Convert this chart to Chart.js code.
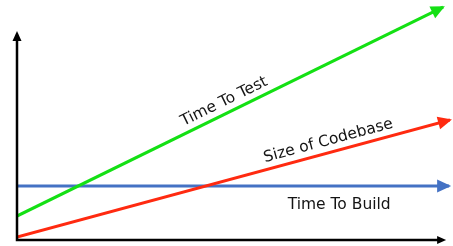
<!DOCTYPE html>
<html>
<head>
<meta charset="utf-8">
<script src="https://cdn.jsdelivr.net/npm/chart.js@4"></script>
<style>
  body { margin: 0; background: #fff; }
  #wrap { width: 453px; height: 246px; position: relative; }
</style>
</head>
<body>
<div id="wrap"><canvas id="chartCanvas"></canvas></div>
<script>
// values are on a 0..100 scale for both axes (no numbers are shown on the picture)
const seriesNames = ['Time To Test', 'Size of Codebase', 'Time To Build'];
const testX = [0, 98.4];
const testY = [10.2, 99.1];
const codebaseX = [0, 100];
const codebaseY = [1.3, 51.1];
const buildX = [0, 99.8];
const buildY = [23, 23];
// where each label sits along its line (x value)
const labelAt = [49, 72.6, 74.4];
// axis arrow ends
const yAxisTop = 87.2;
const xAxisEnd = 99.1;

const colors = ['#14e014', '#ff2a10', '#4472c4'];

const toPoints = (xs, ys) => xs.map((x, i) => ({ x: x, y: ys[i] }));

function arrowHead(ctx, x0, y0, x1, y1, len, half, color) {
    const a = Math.atan2(y1 - y0, x1 - x0);
    ctx.save();
    ctx.translate(x1, y1);
    ctx.rotate(a);
    ctx.fillStyle = color;
    ctx.beginPath();
    ctx.moveTo(2, 0);
    ctx.lineTo(2 - len, -half);
    ctx.lineTo(2 - len, half);
    ctx.closePath();
    ctx.fill();
    ctx.restore();
}

const decorations = {
    id: 'decorations',
    afterDatasetsDraw(chart) {
        const ctx = chart.ctx;
        const xs = chart.scales.x, ys = chart.scales.y;
        const area = chart.chartArea;

        // axes
        ctx.save();
        ctx.strokeStyle = '#000';
        ctx.lineWidth = 2.5;
        ctx.beginPath();
        ctx.moveTo(area.left, ys.getPixelForValue(yAxisTop) + 6);
        ctx.lineTo(area.left, area.bottom);
        ctx.lineTo(xs.getPixelForValue(xAxisEnd) - 6, area.bottom);
        ctx.stroke();
        ctx.restore();
        arrowHead(ctx, area.left, area.bottom, area.left, ys.getPixelForValue(yAxisTop) - 2, 10, 4.5, '#000');
        arrowHead(ctx, area.left, area.bottom, xs.getPixelForValue(xAxisEnd) - 2, area.bottom, 9, 4, '#000');

        // arrow heads at line ends + labels
        chart.data.datasets.forEach((ds, i) => {
            const pts = chart.getDatasetMeta(i).data;
            const p0 = pts[pts.length - 2], p1 = pts[pts.length - 1];
            arrowHead(ctx, p0.x, p0.y, p1.x, p1.y, 14, 6.5, ds.borderColor);

            const a = Math.atan2(p1.y - p0.y, p1.x - p0.x);
            const lx = xs.getPixelForValue(labelAt[i]);
            const first = pts[0];
            const ly = first.y + (p1.y - first.y) * ((lx - first.x) / (p1.x - first.x));
            ctx.save();
            ctx.translate(lx, ly);
            ctx.rotate(a);
            ctx.fillStyle = '#141414';
            ctx.font = '15.5px "DejaVu Sans", Verdana, sans-serif';
            ctx.textAlign = 'center';
            ctx.textBaseline = 'middle';
            ctx.fillText(ds.label, 0, a === 0 ? 19 : -11.5);
            ctx.restore();
        });
    }
};

const ctx = document.getElementById('chartCanvas').getContext('2d');
new Chart(ctx, {
    type: 'line',
    data: {
        datasets: [
            { label: seriesNames[0], data: toPoints(testX, testY), borderColor: colors[0] },
            { label: seriesNames[1], data: toPoints(codebaseX, codebaseY), borderColor: colors[1] },
            { label: seriesNames[2], data: toPoints(buildX, buildY), borderColor: colors[2] }
        ]
    },
    options: {
        responsive: true,
        maintainAspectRatio: false,
        animation: false,
        layout: { padding: { left: 17, right: 3, top: 5, bottom: 6 } },
        elements: {
            line: { borderWidth: 3, tension: 0, borderCapStyle: 'butt' },
            point: { radius: 0, hoverRadius: 0 }
        },
        plugins: {
            legend: { display: false },
            tooltip: { enabled: false }
        },
        scales: {
            x: { type: 'linear', min: 0, max: 100, display: false },
            y: { min: 0, max: 100, display: false }
        }
    },
    plugins: [decorations]
});
</script>
</body>
</html>
